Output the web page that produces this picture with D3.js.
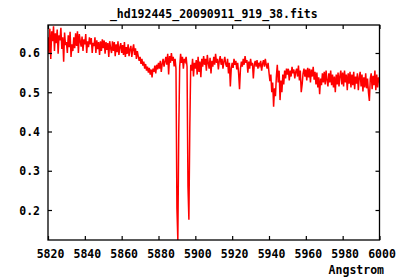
<!DOCTYPE html>
<html>
<head>
<meta charset="utf-8">
<script src="https://cdn.jsdelivr.net/npm/d3@7"></script>
<style>
  body { margin: 0; background: #fff; }
  svg { display: block; }
  text { font-family: "DejaVu Sans Mono", monospace; font-weight: bold; font-size: 11.5px; fill: #000; }
</style>
</head>
<body>
<script>
// spectrum, 0.5 Angstrom steps from 5820 to 6000
const waveStart = 5820;
const waveStep = 0.5;
const flux = [
  0.640,0.600,0.662,0.585,0.655,0.630,0.668,0.605,0.650,0.625,
  0.660,0.598,0.645,0.632,0.664,0.610,0.640,0.578,0.652,0.620,
  0.628,0.600,0.645,0.615,0.654,0.590,0.622,0.605,0.640,0.612,
  0.650,0.618,0.655,0.600,0.648,0.630,0.616,0.642,0.605,0.635,
  0.622,0.648,0.600,0.630,0.615,0.640,0.622,0.638,0.600,0.626,
  0.618,0.640,0.600,0.632,0.610,0.628,0.595,0.630,0.605,0.635,
  0.612,0.632,0.598,0.628,0.608,0.625,0.590,0.630,0.612,0.600,
  0.630,0.605,0.628,0.592,0.622,0.602,0.630,0.595,0.615,0.625,
  0.600,0.620,0.595,0.628,0.590,0.615,0.598,0.622,0.592,0.610,
  0.618,0.590,0.610,0.622,0.595,0.612,0.585,0.605,0.592,0.580,
  0.590,0.572,0.585,0.568,0.578,0.560,0.572,0.555,0.565,0.550,
  0.562,0.545,0.558,0.538,0.560,0.552,0.568,0.548,0.570,0.558,
  0.575,0.560,0.580,0.552,0.572,0.585,0.565,0.578,0.590,0.570,
  0.598,0.545,0.592,0.575,0.600,0.580,0.590,0.566,0.585,0.560,
  0.205,0.123,0.400,0.565,0.598,0.575,0.590,0.560,0.585,0.578,
  0.590,0.565,0.260,0.175,0.410,0.570,0.555,0.585,0.540,0.575,
  0.560,0.582,0.545,0.590,0.552,0.578,0.538,0.585,0.565,0.592,
  0.570,0.585,0.555,0.595,0.575,0.560,0.588,0.548,0.580,0.565,
  0.590,0.570,0.598,0.575,0.585,0.558,0.580,0.592,0.570,0.585,
  0.560,0.578,0.590,0.572,0.565,0.585,0.548,0.575,0.515,0.560,
  0.575,0.562,0.585,0.570,0.580,0.558,0.575,0.548,0.508,0.560,
  0.578,0.565,0.585,0.570,0.592,0.575,0.582,0.550,0.578,0.560,
  0.585,0.568,0.575,0.535,0.570,0.580,0.565,0.582,0.560,0.575,
  0.568,0.580,0.555,0.572,0.582,0.565,0.585,0.570,0.560,0.575,
  0.550,0.528,0.545,0.500,0.525,0.463,0.510,0.490,0.540,0.570,
  0.525,0.555,0.480,0.530,0.500,0.545,0.520,0.555,0.535,0.560,
  0.545,0.560,0.530,0.555,0.540,0.565,0.548,0.558,0.535,0.552,
  0.560,0.540,0.568,0.530,0.555,0.500,0.520,0.548,0.560,0.540,
  0.558,0.530,0.562,0.538,0.560,0.525,0.558,0.540,0.565,0.532,
  0.552,0.520,0.550,0.512,0.538,0.495,0.535,0.518,0.548,0.525,
  0.552,0.520,0.555,0.530,0.515,0.548,0.525,0.555,0.518,0.545,
  0.512,0.540,0.500,0.545,0.520,0.550,0.515,0.542,0.555,0.520,
  0.550,0.515,0.555,0.525,0.545,0.505,0.548,0.522,0.552,0.512,
  0.545,0.518,0.552,0.508,0.540,0.522,0.548,0.505,0.538,0.552,
  0.515,0.545,0.502,0.538,0.512,0.548,0.510,0.535,0.500,0.478,
  0.535,0.548,0.508,0.542,0.518,0.555,0.505,0.545,0.512,0.538,
  0.525
];
const xTicks = [5820, 5840, 5860, 5880, 5900, 5920, 5940, 5960, 5980, 6000];
const yTicks = [0.2, 0.3, 0.4, 0.5, 0.6];
const yRange = [0.1236, 0.6713];
const title = "_hd192445_20090911_919_38.fits";
const xLabel = "Angstrom";

var width = 400;
var height = 280;
var margin = { top: 25, right: 20.5, bottom: 40, left: 48 };

const data = flux.map((f, i) => ({ w: waveStart + i * waveStep, f: f }));

var x = d3.scaleLinear()
  .domain([xTicks[0], xTicks[xTicks.length - 1]])
  .range([margin.left, width - margin.right]);
var y = d3.scaleLinear()
  .domain(yRange)
  .range([height - margin.bottom, margin.top]);

var svg = d3.select("body")
  .append("svg")
  .attr("width", width)
  .attr("height", height);

svg.append("clipPath")
  .attr("id", "plot")
  .append("rect")
  .attr("x", margin.left)
  .attr("y", margin.top)
  .attr("width", width - margin.left - margin.right)
  .attr("height", height - margin.top - margin.bottom);

const line = d3.line()
  .x((d) => x(d.w))
  .y((d) => y(d.f));

svg.append("path")
  .datum(data)
  .attr("clip-path", "url(#plot)")
  .attr("fill", "none")
  .attr("stroke", "#ff0000")
  .attr("stroke-width", 1.5)
  .attr("stroke-linejoin", "miter")
  .attr("d", line);

// inward ticks on all four sides
const tick = 4;
const axes = [
  d3.axisBottom(x).tickValues(xTicks).tickSize(-tick).tickFormat(""),
  d3.axisTop(x).tickValues(xTicks).tickSize(-tick).tickFormat(""),
  d3.axisLeft(y).tickValues(yTicks).tickSize(-tick).tickFormat(""),
  d3.axisRight(y).tickValues(yTicks).tickSize(-tick).tickFormat(""),
];
const shifts = [
  [0, height - margin.bottom],
  [0, margin.top],
  [margin.left, 0],
  [width - margin.right, 0],
];
axes.forEach((a, i) => {
  const g = svg.append("g")
    .attr("transform", `translate(${shifts[i][0]},${shifts[i][1]})`)
    .call(a.tickSizeOuter(0));
  g.select(".domain").remove();
  g.selectAll("line").attr("stroke", "#000").attr("stroke-width", 1.2);
});

svg.append("rect")
  .attr("x", margin.left)
  .attr("y", margin.top)
  .attr("width", width - margin.left - margin.right)
  .attr("height", height - margin.top - margin.bottom)
  .attr("fill", "none")
  .attr("stroke", "#000")
  .attr("stroke-width", 1.3);

svg.append("g")
  .selectAll("text")
  .data(xTicks)
  .join("text")
  .attr("x", (d) => x(d) + 2.5)
  .attr("y", height - margin.bottom + 18)
  .attr("text-anchor", "middle")
  .text((d) => d);

svg.append("g")
  .selectAll("text")
  .data(yTicks)
  .join("text")
  .attr("x", 40)
  .attr("y", (d) => y(d) + 4.5)
  .attr("text-anchor", "end")
  .text((d) => d.toFixed(1));

svg.append("text")
  .attr("x", (margin.left + width - margin.right) / 2)
  .attr("y", 17.5)
  .attr("text-anchor", "middle")
  .text(title);

svg.append("text")
  .attr("x", 384)
  .attr("y", 273.5)
  .attr("text-anchor", "end")
  .text(xLabel);
</script>
</body>
</html>
